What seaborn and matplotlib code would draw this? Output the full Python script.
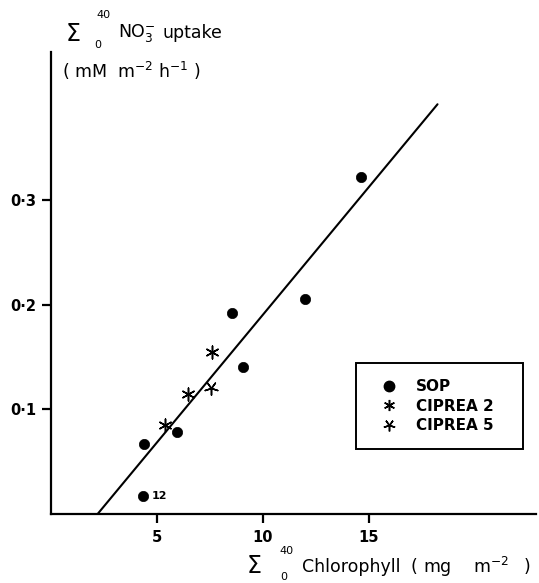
import matplotlib
matplotlib.use("Agg")
import matplotlib.pyplot as plt
from matplotlib.lines import Line2D
import seaborn as sns
import pandas as pd

# Integrated (0-40 m) chlorophyll vs integrated nitrate uptake
sop_chl = [4.34, 4.39, 5.94, 9.06, 8.54, 11.98, 14.62]
sop_no3 = [0.017, 0.067, 0.078, 0.141, 0.192, 0.206, 0.322]
ciprea2_chl = [5.38, 6.46, 7.59]
ciprea2_no3 = [0.085, 0.115, 0.155]
ciprea5_chl = [7.55]
ciprea5_no3 = [0.121]

# Regression line end points
fit_chl = [2.2, 18.25]
fit_no3 = [0.0, 0.392]

x_ticks = [5, 10, 15]
x_tick_labels = ["5", "10", "15"]
y_ticks = [0.1, 0.2, 0.3]
y_tick_labels = ["0·1", "0·2", "0·3"]

series_names = ["SOP", "CIPREA 2", "CIPREA 5"]

sns.set_style("ticks")
plt.rcParams["font.family"] = ["DejaVu Sans"]
plt.rcParams["mathtext.fontset"] = "dejavusans"
plt.rcParams["text.color"] = "black"
plt.rcParams["axes.labelcolor"] = "black"

W, H = 539, 583
fig = plt.figure(figsize=(W / 100, H / 100), dpi=100)
ax = fig.add_axes([51 / W, (H - 514) / H, 485 / W, 462 / H])

df_sop = pd.DataFrame({"chl": sop_chl, "no3": sop_no3})
df_c2 = pd.DataFrame({"chl": ciprea2_chl, "no3": ciprea2_no3})
df_c5 = pd.DataFrame({"chl": ciprea5_chl, "no3": ciprea5_no3})

sns.lineplot(x=fit_chl, y=fit_no3, color="black", linewidth=1.5, ax=ax)
sns.scatterplot(data=df_sop, x="chl", y="no3", marker="o", s=55,
                color="black", edgecolor="black", linewidth=0.5, ax=ax, zorder=3)
sns.scatterplot(data=df_c2, x="chl", y="no3", marker=(6, 2, 0), s=85,
                color="black", linewidth=1.1, ax=ax, zorder=3)
sns.scatterplot(data=df_c5, x="chl", y="no3", marker=(5, 2, 36), s=90,
                color="black", linewidth=1.1, ax=ax, zorder=3)

ax.annotate("12", xy=(sop_chl[0], sop_no3[0]), xytext=(6, 0),
            textcoords="offset points", va="center", ha="left",
            fontsize=8, fontweight="bold", color="black")

ax.set_xlim(0, 22.9)
ax.set_ylim(0, 0.442)
ax.set_xticks(x_ticks)
ax.set_xticklabels(x_tick_labels)
ax.set_yticks(y_ticks)
ax.set_yticklabels(y_tick_labels)
ax.set_xlabel("")
ax.set_ylabel("")
for side in ("top", "right"):
    ax.spines[side].set_visible(False)
for side in ("left", "bottom"):
    ax.spines[side].set_linewidth(1.6)
    ax.spines[side].set_color("black")
ax.tick_params(axis="both", direction="out", length=6.5, width=1.6,
               colors="black", labelsize=10.5)
ax.tick_params(axis="x", pad=5)
ax.tick_params(axis="y", pad=4)
for lab in ax.get_xticklabels() + ax.get_yticklabels():
    lab.set_fontweight("bold")

handles = [
    Line2D([], [], linestyle="none", marker="o", markersize=7.5,
           color="black"),
    Line2D([], [], linestyle="none", marker=(6, 2, 0), markersize=8,
           color="black", markeredgewidth=1.1),
    Line2D([], [], linestyle="none", marker=(5, 2, 36), markersize=8.5,
           color="black", markeredgewidth=1.1),
]
leg = ax.legend(handles, series_names, loc="upper left",
                bbox_to_anchor=(0.629, 0.143, 0.344, 0.184), mode="expand",
                borderaxespad=0, frameon=True, fancybox=False,
                edgecolor="black", labelspacing=0.3,
                handletextpad=0.65, borderpad=1.05, handlelength=2.2,
                prop={"weight": "bold", "size": 11})
leg.get_frame().set_linewidth(1.4)
leg.get_frame().set_alpha(None)
for t in leg.get_texts():
    t.set_color("black")


def put(x, y, s, size, **kw):
    """Place a text piece at pixel position (x, y) from the top-left corner."""
    fig.text(x / W, 1 - y / H, s, fontsize=size, ha="left", va="center",
             color="black", **kw)


# y-axis title: integrated NO3- uptake
put(66, 34, "Σ", 17)
put(96, 15, "40", 8)
put(94, 45, "0", 8)
put(118, 33, r"NO$_3^{-}$", 12.5)
put(163, 33, "uptake", 12.5)
put(62, 71, r"( mM  m$^{-2}$ h$^{-1}$ )", 12.5)

# x-axis title: integrated chlorophyll
put(247, 566, "Σ", 17)
put(279, 551, "40", 8)
put(280, 577, "0", 8)
put(302, 567, "Chlorophyll", 12.5)
put(410, 567, "(", 12.5)
put(423, 567, "mg", 12.5)
put(473, 567, r"m$^{-2}$", 12.5)
put(524, 567, ")", 12.5)

fig.savefig("out.png", dpi=100)
